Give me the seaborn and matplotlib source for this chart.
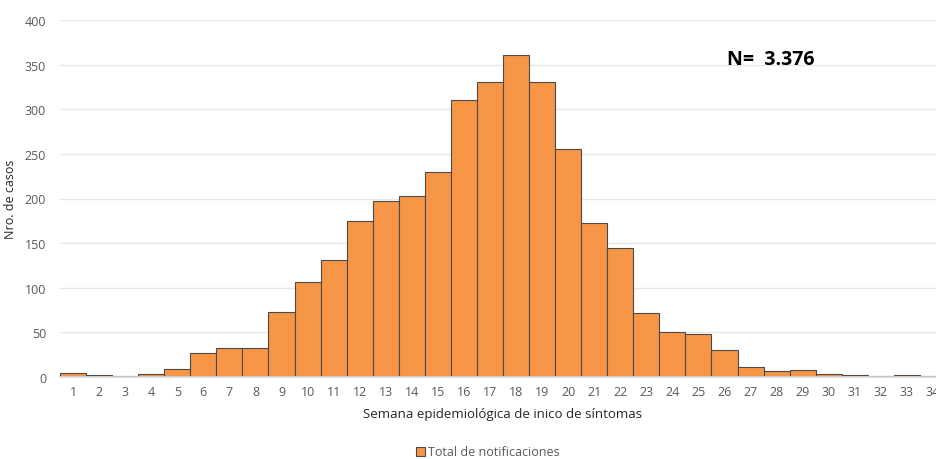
import matplotlib
matplotlib.use("Agg")
import matplotlib.pyplot as plt
import seaborn as sns
import pandas as pd

weeks = [str(i) for i in range(1, 35)]
cases = [5, 2, 1, 3, 9, 27, 32, 32, 73, 106, 131, 175, 197, 203, 230, 310, 330, 361,
         330, 255, 172, 144, 72, 50, 48, 30, 11, 7, 8, 3, 2, 1, 2, 1]
series_name = "Total de notificaciones"
y_ticks = [0, 50, 100, 150, 200, 250, 300, 350, 400]

df = pd.DataFrame({"Semana": weeks, "Casos": cases})

sns.set_theme(style="white")
plt.rcParams["font.family"] = ["Open Sans", "DejaVu Sans"]

W, H = 936, 460
fig = plt.figure(figsize=(W / 100, H / 100), dpi=100)
left_px, right_px, top_px, bottom_px = 60, 946, 21, 378
ax = fig.add_axes([left_px / W, (H - bottom_px) / H, (right_px - left_px) / W, (bottom_px - top_px) / H])

sns.barplot(data=df, x="Semana", y="Casos", color="#F79646", saturation=1, width=1.0,
            edgecolor="#4a4a4a", linewidth=0.8, label=series_name, ax=ax)

ax.set_xlim(-0.5, 33.5)
ax.set_ylim(0, 400)
ax.set_yticks(y_ticks)
ax.yaxis.grid(True, color="#e6e6e6", linewidth=1)
ax.set_axisbelow(True)
for s in ["top", "right", "left"]:
    ax.spines[s].set_visible(False)
ax.spines["bottom"].set_color("#d9d9d9")
ax.tick_params(axis="both", length=0, labelsize=9, labelcolor="#595959", pad=6)
ax.tick_params(axis="y", pad=10)
ax.set_xlabel("Semana epidemiológica de inico de síntomas", fontsize=9.5, color="#262626", labelpad=6)
ax.set_ylabel("Nro. de casos", fontsize=9, color="#262626", labelpad=8)
ax.yaxis.set_label_coords(-0.048, 0.5)

fig.text(771 / W, 1 - 60 / H, "N=  3.376", fontsize=14, fontweight="bold", ha="center", va="center", color="black")

leg = ax.legend(loc="center", bbox_to_anchor=(488 / W, 1 - 453 / H), bbox_transform=fig.transFigure,
                frameon=False, fontsize=9, handlelength=0.7, handleheight=0.7, handletextpad=0.3)
for t in leg.get_texts():
    t.set_color("#595959")

fig.savefig("out.png", dpi=100)
